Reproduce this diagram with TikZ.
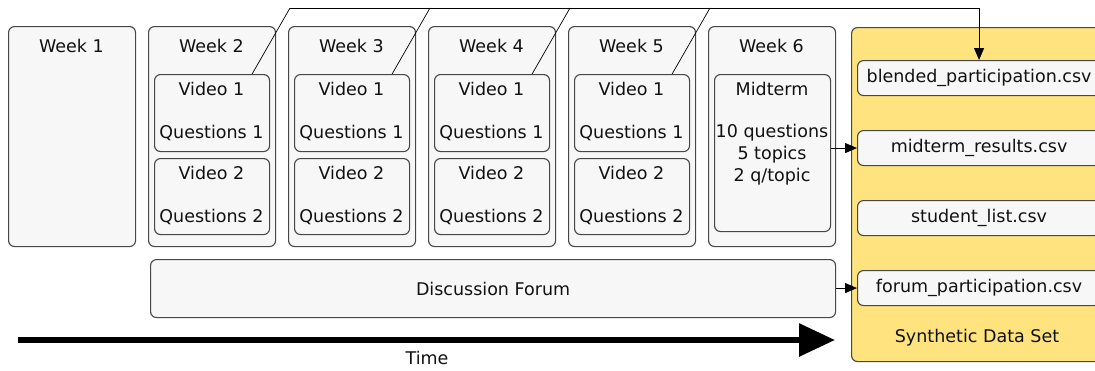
\documentclass[tikz,border=0pt]{standalone}
\usepackage{fontspec}
\setmainfont{DejaVu Sans}
\usetikzlibrary{arrows.meta,calc}
\definecolor{boxfill}{HTML}{F7F7F7}
\definecolor{boxline}{HTML}{474747}
\definecolor{dsfill}{HTML}{FFE37F}
\definecolor{txt}{HTML}{111111}
\begin{document}
\begin{tikzpicture}[x=1pt,y=-1pt,
  font=\fontsize{17.5}{20}\selectfont, text=txt,
  box/.style={draw=boxline, fill=boxfill, rounded corners=6pt, line width=1.1pt, anchor=north west, inner sep=0pt},
  lbl/.style={inner sep=0pt},
  conn/.style={draw=black, line width=0.9pt},
  tip/.style={-{Triangle[length=12pt,width=10pt]}}]
\useasboundingbox (0,0) rectangle (1095,370);

% Data set container
\node[box, fill=dsfill, minimum width=260pt, minimum height=334pt] (ds) at (851,27) {};
\node[lbl] (dslbl) at (977,338) {Synthetic Data Set};
\node[box, minimum width=243pt, minimum height=35pt] (blend) at (857,60) {};
\node[lbl] at (blend.center) {blended\_participation.csv};
\node[box, minimum width=243pt, minimum height=35pt] (midres) at (857,130) {};
\node[lbl] at (midres.center) {midterm\_results.csv};
\node[box, minimum width=243pt, minimum height=35pt] (slist) at (857,200) {};
\node[lbl] at (slist.center) {student\_list.csv};
\node[box, minimum width=243pt, minimum height=35pt] (fpart) at (857,270) {};
\node[lbl] at (fpart.center) {forum\_participation.csv};

% Week 1
\node[box, minimum width=127pt, minimum height=220pt] (week1) at (8,26) {};
\node[lbl] (wl1) at (71.5,46) {Week 1};

% Weeks 2-5
\foreach \i/\x in {2/148,3/288,4/428,5/568} {
  \node[box, minimum width=127pt, minimum height=220pt] (week\i) at (\x,26) {};
  \node[lbl] (wl\i) at (\x+63.5,46) {Week \i};
  \node[box, minimum width=115pt, minimum height=77pt] (v1w\i) at (\x+6,74) {};
  \node[lbl] (v1t\i) at (\x+63.5,89) {Video 1};
  \node[lbl] (q1t\i) at (\x+63.5,133) {Questions 1};
  \node[box, minimum width=115pt, minimum height=76pt] (v2w\i) at (\x+6,158) {};
  \node[lbl] (v2t\i) at (\x+63.5,173) {Video 2};
  \node[lbl] (q2t\i) at (\x+63.5,217) {Questions 2};
  \coordinate (top\i) at (\x+142,8);
  \draw[conn, line width=0.7pt] ($(v1w\i.north east)+(-18,0)$) -- (top\i);
}

% Week 6
\node[box, minimum width=127pt, minimum height=220pt] (week6) at (708,26) {};
\node[lbl] (wl6) at (771.5,46) {Week 6};
\node[box, minimum width=116pt, minimum height=157pt] (mid) at (714,74) {};
\node[lbl] (midt) at (772,89) {Midterm};
\node[lbl, align=center, font=\fontsize{17.5}{22}\selectfont] (midd) at (772,155) {10 questions\\5 topics\\2 q/topic};

% Forum
\node[box, minimum width=685pt, minimum height=58pt] (forum) at (150,259) {};
\node[lbl] at (forum.center) {Discussion Forum};

% Connectors
\draw[conn, tip] (top2) -- (blend.north |- top2) -- (blend.north);
\draw[conn, tip] (midres.west -| mid.east) -- (midres.west);
\draw[conn, tip] (fpart.west -| forum.east) -- (fpart.west);

% Time arrow
\coordinate (t0) at (18,340);
\coordinate (t1) at (835,340);
\draw[line width=6pt, -{Triangle[length=36pt,width=32pt]}] (t0) -- (t1);
\node[lbl] (time) at (427,358) {Time};
\end{tikzpicture}
\end{document}
